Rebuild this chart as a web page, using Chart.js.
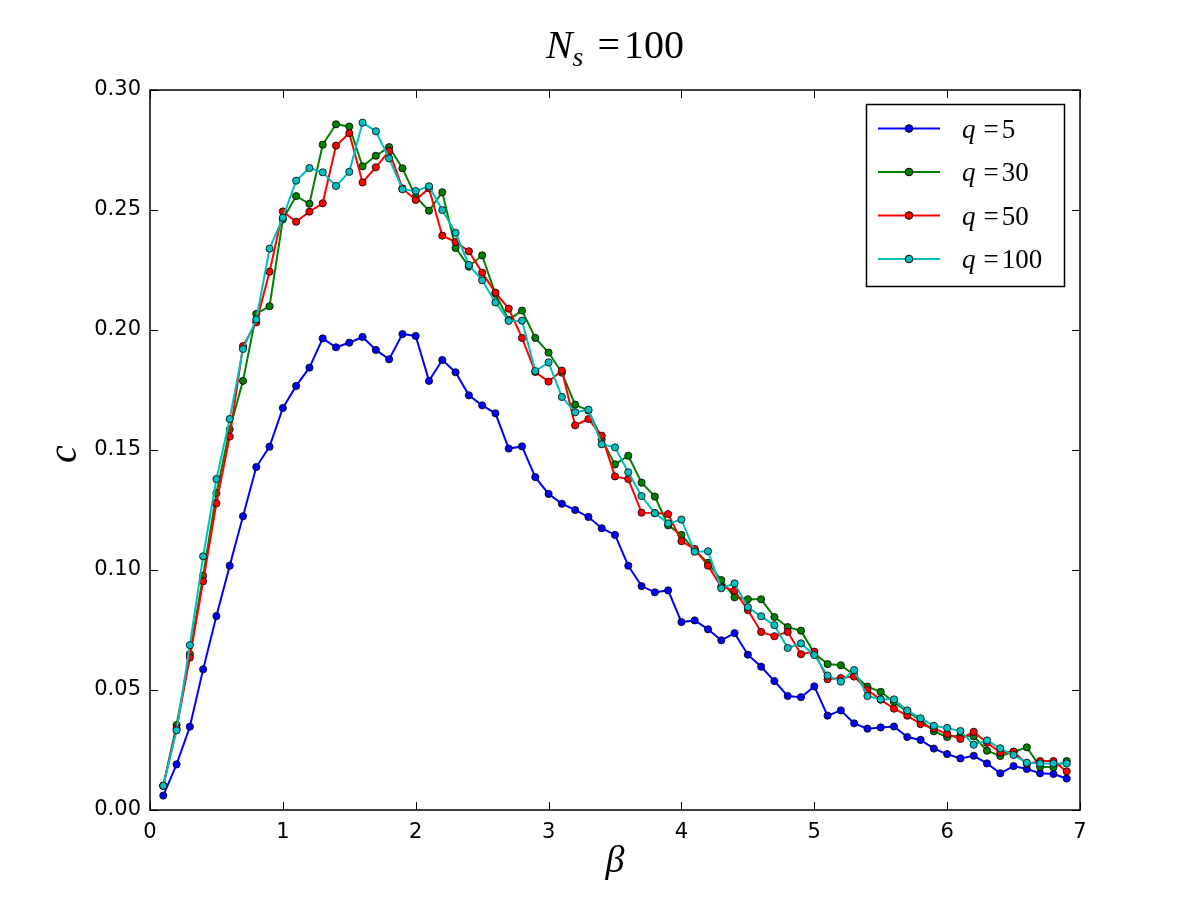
<!DOCTYPE html>
<html><head><meta charset="utf-8">
<script src="https://cdn.jsdelivr.net/npm/chart.js@4.4.0/dist/chart.umd.min.js"></script>
<style>html,body{margin:0;padding:0;background:#fff}#wrap{width:1200px;height:900px}</style>
</head><body><div id="wrap"><canvas id="c" width="1200" height="900"></canvas></div>
<script>
const betas = [0.1,0.2,0.3,0.4,0.5,0.6,0.7,0.8,0.9,1.0,1.1,1.2,1.3,1.4,1.5,1.6,1.7,1.8,1.9,2.0,2.1,2.2,2.3,2.4,2.5,2.6,2.7,2.8,2.9,3.0,3.1,3.2,3.3,3.4,3.5,3.6,3.7,3.8,3.9,4.0,4.1,4.2,4.3,4.4,4.5,4.6,4.7,4.8,4.9,5.0,5.1,5.2,5.3,5.4,5.5,5.6,5.7,5.8,5.9,6.0,6.1,6.2,6.3,6.4,6.5,6.6,6.7,6.8,6.9];
const q5 = [0.006,0.019,0.0347,0.0586,0.0808,0.1018,0.1224,0.1429,0.1514,0.1675,0.1767,0.1843,0.1965,0.1928,0.1947,0.1971,0.1917,0.1878,0.1983,0.1975,0.1788,0.1875,0.1824,0.1728,0.1686,0.1653,0.1506,0.1515,0.1387,0.1317,0.1276,0.125,0.1221,0.1174,0.1146,0.1018,0.0933,0.0907,0.0915,0.0783,0.079,0.0753,0.0707,0.0737,0.0647,0.0597,0.0537,0.0475,0.047,0.0515,0.0393,0.0415,0.0361,0.0339,0.0344,0.0348,0.0304,0.0292,0.0256,0.0233,0.0215,0.0226,0.0194,0.0153,0.0183,0.0171,0.0153,0.015,0.0131];
const q30 = [0.0101,0.0354,0.065,0.0976,0.132,0.1586,0.1788,0.2067,0.2099,0.2461,0.2558,0.2526,0.2772,0.2857,0.2848,0.2682,0.2726,0.2762,0.2674,0.2555,0.2497,0.2574,0.2342,0.2264,0.2311,0.215,0.2042,0.2081,0.1967,0.1906,0.1822,0.1689,0.1665,0.1545,0.144,0.1476,0.1364,0.1306,0.1186,0.1146,0.1082,0.103,0.0958,0.0886,0.0878,0.0878,0.0804,0.0762,0.0747,0.0653,0.0608,0.0603,0.0563,0.0514,0.0492,0.045,0.041,0.0375,0.0328,0.0304,0.031,0.0307,0.0247,0.0225,0.0243,0.0261,0.018,0.0178,0.0204];
const q50 = [0.0101,0.034,0.0635,0.0953,0.1278,0.1556,0.1933,0.2032,0.2243,0.2494,0.2451,0.2493,0.2528,0.2768,0.282,0.2615,0.2678,0.2746,0.259,0.2542,0.259,0.2393,0.2367,0.2328,0.2239,0.2156,0.2089,0.1967,0.1825,0.1785,0.1831,0.1603,0.1629,0.156,0.139,0.1379,0.1239,0.1237,0.1233,0.112,0.1088,0.1018,0.093,0.0914,0.0833,0.0742,0.0724,0.0742,0.0649,0.066,0.0545,0.055,0.0556,0.05,0.046,0.0422,0.0393,0.0358,0.034,0.0317,0.0296,0.0326,0.028,0.024,0.0243,0.0192,0.0204,0.0204,0.0161];
const q100 = [0.0101,0.0332,0.0687,0.1057,0.1379,0.1629,0.1921,0.2044,0.2339,0.2468,0.2622,0.2675,0.2657,0.26,0.2659,0.2864,0.2828,0.2715,0.2586,0.2579,0.2599,0.25,0.2405,0.2271,0.2207,0.2115,0.2038,0.2039,0.1829,0.1865,0.1721,0.1657,0.1668,0.1524,0.1511,0.1407,0.1308,0.1237,0.1194,0.121,0.1076,0.1078,0.0924,0.0944,0.0845,0.0807,0.077,0.0675,0.0694,0.0646,0.056,0.0535,0.0583,0.0475,0.0461,0.0461,0.0415,0.0382,0.0351,0.0342,0.0329,0.0272,0.029,0.0257,0.0229,0.0197,0.0194,0.0194,0.0194];
const seriesNames = ['5','30','50','100'];
const seriesColors = ['#0000ff','#008000','#ff0000','#00bfbf'];
const seriesValues = [q5,q30,q50,q100];
const xTicks = [0,1,2,3,4,5,6,7];
const yTicks = [0,0.05,0.10,0.15,0.20,0.25,0.30];

const SERIF = '"Liberation Serif", "DejaVu Serif", serif';
const SANS = '"DejaVu Sans", sans-serif';

function drawParts(ctx, parts, cx, y) {
  let total = 0;
  parts.forEach(p => { ctx.font = p.font; p.w = ctx.measureText(p.t).width; total += p.w + (p.gap || 0); });
  let x = cx - total / 2;
  parts.forEach(p => {
    ctx.font = p.font; ctx.textAlign = 'left'; ctx.textBaseline = 'alphabetic';
    ctx.fillText(p.t, x, y + (p.dy || 0));
    x += p.w + (p.gap || 0);
  });
}
function drawPartsLeft(ctx, parts, x, y) {
  parts.forEach(p => {
    ctx.font = p.font; ctx.textAlign = 'left'; ctx.textBaseline = 'alphabetic';
    ctx.fillText(p.t, x, y + (p.dy || 0));
    x += ctx.measureText(p.t).width + (p.gap || 0);
  });
}

const decor = {
  id: 'decor',
  afterDraw(chart) {
    const ctx = chart.ctx;
    const a = chart.chartArea;
    const xs = chart.scales.x, ys = chart.scales.y;
    ctx.save();
    ctx.fillStyle = '#000';
    ctx.strokeStyle = '#000';
    // ticks inward on all sides
    ctx.lineWidth = 1;
    const L = 8;
    ctx.beginPath();
    xTicks.forEach(v => {
      const px = Math.round(xs.getPixelForValue(v)) + 0.5;
      ctx.moveTo(px, a.bottom); ctx.lineTo(px, a.bottom - L);
      ctx.moveTo(px, a.top); ctx.lineTo(px, a.top + L);
    });
    yTicks.forEach(v => {
      const py = Math.round(ys.getPixelForValue(v)) + 0.5;
      ctx.moveTo(a.left, py); ctx.lineTo(a.left + L, py);
      ctx.moveTo(a.right, py); ctx.lineTo(a.right - L, py);
    });
    ctx.stroke();
    // frame
    ctx.lineWidth = 1.5;
    ctx.strokeRect(a.left, a.top, a.right - a.left, a.bottom - a.top);
    // title
    drawParts(ctx, [
      {t: 'N', font: 'italic 40px ' + SERIF},
      {t: 's', font: 'italic 28px ' + SERIF, dy: 8, gap: 14},
      {t: '=', font: '40px ' + SERIF, gap: 4},
      {t: '100', font: '40px ' + SERIF}
    ], (a.left + a.right) / 2, 58);
    // x label
    ctx.font = 'italic 38px ' + SERIF;
    ctx.textAlign = 'center'; ctx.textBaseline = 'alphabetic';
    ctx.fillText('\u03B2', (a.left + a.right) / 2, 872);
    // y label
    ctx.save();
    ctx.translate(76, (a.top + a.bottom) / 2 + 4);
    ctx.rotate(-Math.PI / 2);
    ctx.font = 'italic 40px ' + SERIF;
    ctx.textAlign = 'center';
    ctx.fillText('c', 0, 0);
    ctx.restore();
    // legend
    const lx = 866.5, ly = 104.5, lw = 198, lh = 182;
    ctx.fillStyle = '#fff';
    ctx.fillRect(lx, ly, lw, lh);
    ctx.lineWidth = 1.5;
    ctx.strokeStyle = '#000';
    ctx.strokeRect(lx, ly, lw, lh);
    const rows = [128.5, 172, 215.5, 259];
    seriesNames.forEach((n, i) => {
      const yy = rows[i];
      ctx.strokeStyle = seriesColors[i];
      ctx.lineWidth = 2;
      ctx.beginPath(); ctx.moveTo(878, yy); ctx.lineTo(940, yy); ctx.stroke();
      ctx.beginPath(); ctx.arc(909, yy, 3.8, 0, Math.PI * 2);
      ctx.fillStyle = seriesColors[i]; ctx.fill();
      ctx.lineWidth = 1; ctx.strokeStyle = '#000'; ctx.stroke();
      ctx.fillStyle = '#000';
      drawPartsLeft(ctx, [
        {t: 'q', font: 'italic 27px ' + SERIF, gap: 8},
        {t: '=', font: '27px ' + SERIF, gap: 3},
        {t: n, font: '27px ' + SERIF}
      ], 962, yy + 9);
    });
    ctx.restore();
  }
};

const datasets = seriesValues.map((vals, i) => ({
  label: 'q=' + seriesNames[i],
  data: betas.map((b, j) => ({x: b, y: vals[j]})),
  borderColor: seriesColors[i],
  backgroundColor: seriesColors[i],
  pointBackgroundColor: seriesColors[i],
  pointBorderColor: '#000',
  pointBorderWidth: 0.8,
  pointRadius: 3.6,
  borderWidth: 2,
  tension: 0,
  fill: false,
  order: 3 - i
}));

new Chart(document.getElementById('c'), {
  type: 'line',
  data: { datasets },
  options: {
    responsive: false,
    animation: false,
    devicePixelRatio: 1,
    layout: { padding: { top: 90, right: 120, bottom: 0, left: 0 } },
    plugins: { legend: { display: false }, tooltip: { enabled: false }, title: { display: false } },
    scales: {
      x: {
        type: 'linear', min: 0, max: 7,
        afterFit(s) { s.height = 90; },
        afterBuildTicks(s) { s.ticks = xTicks.map(v => ({value: v})); },
        grid: { display: false, drawTicks: false },
        border: { display: false },
        ticks: { padding: 10, color: '#000', font: { family: SANS, size: 21 }, callback: v => String(v), maxRotation: 0 }
      },
      y: {
        type: 'linear', min: 0, max: 0.3,
        afterFit(s) { s.width = 150; },
        afterBuildTicks(s) { s.ticks = yTicks.map(v => ({value: v})); },
        grid: { display: false, drawTicks: false },
        border: { display: false },
        ticks: { padding: 9, color: '#000', font: { family: SANS, size: 21 }, callback: v => Number(v).toFixed(2) }
      }
    }
  },
  plugins: [decor]
});
</script></body></html>
